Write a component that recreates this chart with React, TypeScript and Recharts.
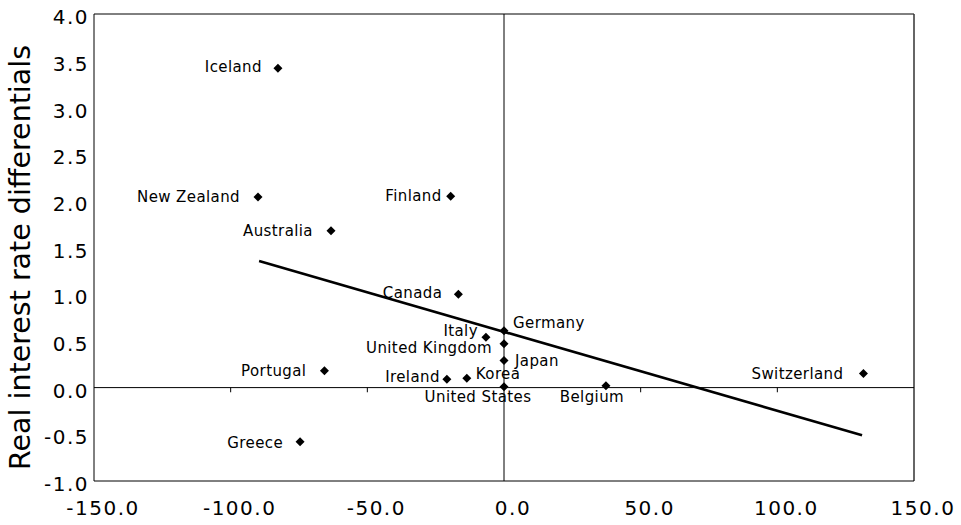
import { ScatterChart, Scatter, XAxis, YAxis, ReferenceLine } from 'recharts';

const countries = [
  'Iceland', 'New Zealand', 'Finland', 'Australia', 'Canada', 'Germany', 'Italy', 'United Kingdom',
  'Japan', 'Portugal', 'Ireland', 'Korea', 'United States', 'Belgium', 'Switzerland', 'Greece',
];
const xValues = [-82.7, -90.0, -19.5, -63.3, -16.7, 0.0, -6.6, 0.0, 0.0, -65.7, -20.9, -13.6, 0.0, 37.3, 131.5, -74.6];
const yValues = [3.42, 2.04, 2.05, 1.68, 1.0, 0.61, 0.54, 0.47, 0.29, 0.18, 0.09, 0.1, 0.01, 0.02, 0.15, -0.58];

// fitted trend line, end points
const trendX = [-89.6, 131.0];
const trendY = [1.355, -0.51];

const xTicks = [-150, -100, -50, 0, 50, 100, 150];
const yTicks = [-1, -0.5, 0, 0.5, 1, 1.5, 2, 2.5, 3, 3.5, 4];

const FONT = '"DejaVu Sans", Verdana, sans-serif';

// label placement next to each marker: [anchor, dx, dy]
const labelPos: Record<string, [string, number, number]> = {
  Iceland: ['end', -16, -1.5],
  'New Zealand': ['end', -18, 0],
  Finland: ['end', -9, 0],
  Australia: ['end', -18, 0],
  Canada: ['end', -16, -1],
  Germany: ['start', 9, -8],
  Italy: ['end', -8, -6],
  'United Kingdom': ['end', -12, 4],
  Japan: ['start', 11, 0],
  Portugal: ['end', -18, 0],
  Ireland: ['end', -7, -2],
  Korea: ['start', 9, -4],
  'United States': ['middle', -26, 10],
  Belgium: ['middle', -14, 11],
  Switzerland: ['end', -20, 0],
  Greece: ['end', -17, 1],
};

const points = countries.map((name, i) => ({ name, x: xValues[i], y: yValues[i] }));
const trend = trendX.map((x, i) => ({ x, y: trendY[i] }));

const DiamondLabel = (props: any) => {
  const { cx, cy, payload } = props;
  const [anchor, dx, dy] = labelPos[payload.name] || ['end', -15, 0];
  const s = 4.5;
  return (
    <g>
      <path d={`M${cx},${cy - s}L${cx + s},${cy}L${cx},${cy + s}L${cx - s},${cy}Z`} fill="#000" />
      <text
        x={cx + dx}
        y={cy + dy}
        textAnchor={anchor as any}
        dominantBaseline="central"
        fontFamily={FONT}
        fontSize={15}
        letterSpacing={0.4}
        fill="#000"
      >
        {payload.name}
      </text>
    </g>
  );
};

const XTick = ({ x, y, payload }: any) => (
  <text x={x + 9} y={y - 2} dy="0.71em" textAnchor="middle" fontFamily={FONT} fontSize={20} letterSpacing={1.5} fill="#000">
    {Number(payload.value).toFixed(1)}
  </text>
);

const YTick = ({ x, y, payload }: any) => (
  <text x={x} y={y + 3} dy="0.355em" textAnchor="end" fontFamily={FONT} fontSize={20} letterSpacing={1.5} fill="#000">
    {Number(payload.value).toFixed(1)}
  </text>
);

export default function App() {
  return (
    <div style={{ position: 'absolute', left: 0, top: 0, background: '#fff' }}>
      <ScatterChart width={961} height={525} margin={{ top: 14, right: 47, bottom: 4, left: 34 }}>
        <XAxis
          type="number"
          dataKey="x"
          domain={[-150, 150]}
          ticks={xTicks}
          interval={0}
          height={40}
          tickSize={0}
          tickMargin={22}
          tickLine={false}
          axisLine={{ stroke: '#000', strokeWidth: 1 }}
          tick={<XTick />}
        />
        <YAxis
          type="number"
          dataKey="y"
          domain={[-1, 4]}
          ticks={yTicks}
          interval={0}
          width={60}
          tickSize={0}
          tickMargin={5}
          tickLine={false}
          axisLine={{ stroke: '#000', strokeWidth: 1 }}
          tick={<YTick />}
          label={(props: any) => {
            const vb = props.viewBox || { y: 14, height: 467 };
            const cy = vb.y + vb.height / 2 + 10;
            return (
              <text
                transform={`translate(30, ${cy}) rotate(-90)`}
                textAnchor="middle"
                fontFamily={FONT}
                fontSize={28.5}
                fill="#000"
              >
                Real interest rate differentials
              </text>
            );
          }}
        />
        <ReferenceLine y={4} stroke="#000" strokeWidth={1} />
        <ReferenceLine x={150} stroke="#333" strokeWidth={1.5} />
        <ReferenceLine y={0} stroke="#000" strokeWidth={1} />
        <ReferenceLine x={0} stroke="#000" strokeWidth={1} />
        {xTicks
          .filter((t) => Math.abs(t) !== 150 && t !== 0)
          .map((t) => (
            <ReferenceLine
              key={t}
              segment={[
                { x: t, y: 0 },
                { x: t, y: -0.05 },
              ]}
              stroke="#000"
              strokeWidth={1}
            />
          ))}
        <Scatter
          data={trend}
          line={{ stroke: '#000', strokeWidth: 2.6 }}
          shape={() => <g />}
          isAnimationActive={false}
        />
        <Scatter data={points} shape={<DiamondLabel />} isAnimationActive={false} />
      </ScatterChart>
    </div>
  );
}
